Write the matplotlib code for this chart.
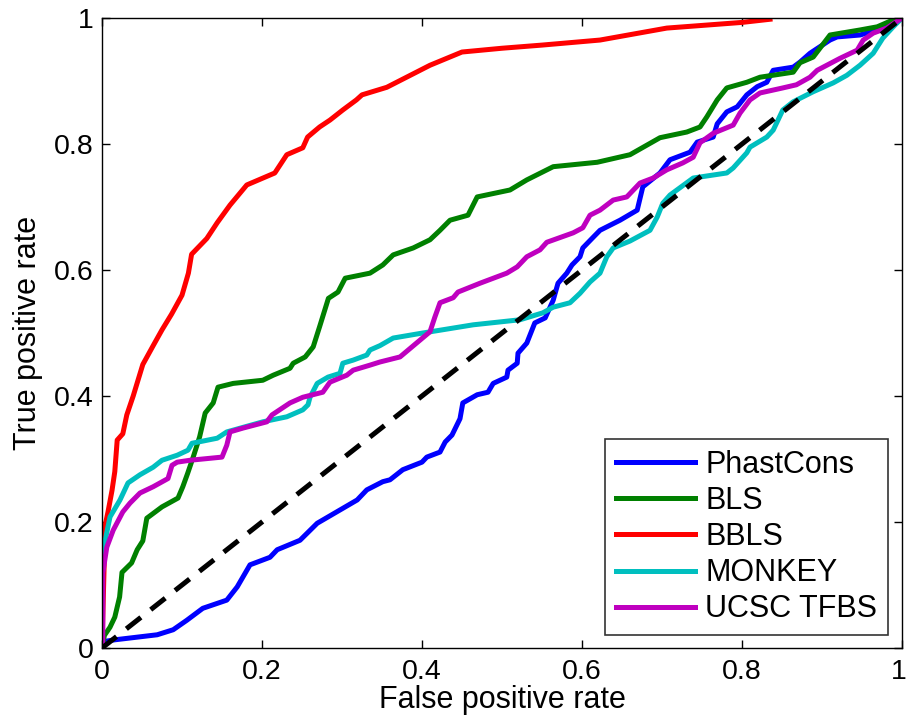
import matplotlib
matplotlib.use("Agg")
import matplotlib.pyplot as plt

plt.rcParams['font.family'] = ['Liberation Sans', 'DejaVu Sans']

labels = ["PhastCons", "BLS", "BBLS", "MONKEY", "UCSC TFBS"]
colors = ["#0000ff", "#008000", "#ff0000", "#00bfbf", "#bf00bf"]

phast_x = [0, 0.001, 0.016, 0.069, 0.089, 0.106, 0.126, 0.156, 0.169, 0.185, 0.21, 0.219, 0.2475, 0.269, 0.319, 0.331,
           0.351, 0.36, 0.376, 0.4, 0.406, 0.4225, 0.429, 0.4375, 0.4475, 0.451, 0.469, 0.4825, 0.489, 0.506, 0.5075,
           0.519, 0.52, 0.531, 0.541, 0.554, 0.564, 0.57, 0.581, 0.5875, 0.5975, 0.601, 0.614, 0.6225, 0.6475, 0.669,
           0.676, 0.6975, 0.71, 0.735, 0.744, 0.764, 0.769, 0.781, 0.794, 0.806, 0.819, 0.831, 0.839, 0.864, 0.8725,
           0.885, 0.91, 0.919, 0.9475, 0.969, 0.985, 1.0]
phast_y = [0, 0.01, 0.013, 0.021, 0.029, 0.044, 0.063, 0.076, 0.097, 0.132, 0.144, 0.156, 0.171, 0.198, 0.235, 0.251,
           0.264, 0.267, 0.283, 0.295, 0.303, 0.311, 0.327, 0.338, 0.364, 0.389, 0.402, 0.406, 0.42, 0.43, 0.441,
           0.452, 0.468, 0.484, 0.516, 0.524, 0.552, 0.579, 0.595, 0.608, 0.621, 0.635, 0.652, 0.663, 0.679, 0.695,
           0.732, 0.754, 0.775, 0.787, 0.803, 0.811, 0.832, 0.851, 0.859, 0.878, 0.891, 0.898, 0.917, 0.922, 0.93,
           0.944, 0.965, 0.97, 0.973, 0.981, 0.992, 1.0]

bls_x = [0, 0.003, 0.01, 0.016, 0.022, 0.025, 0.037, 0.044, 0.051, 0.056, 0.075, 0.095, 0.101, 0.107, 0.114, 0.122,
         0.129, 0.139, 0.145, 0.164, 0.201, 0.214, 0.235, 0.239, 0.254, 0.264, 0.272, 0.283, 0.295, 0.304, 0.335,
         0.351, 0.364, 0.389, 0.41, 0.4225, 0.435, 0.4575, 0.469, 0.51, 0.531, 0.564, 0.619, 0.66, 0.6975, 0.731,
         0.7475, 0.756, 0.769, 0.781, 0.806, 0.8225, 0.864, 0.8725, 0.889, 0.91, 0.9475, 0.969, 0.989, 1.0]
bls_y = [0, 0.02, 0.033, 0.049, 0.081, 0.12, 0.135, 0.156, 0.17, 0.206, 0.224, 0.238, 0.256, 0.277, 0.303, 0.335,
         0.373, 0.389, 0.414, 0.42, 0.425, 0.433, 0.444, 0.452, 0.462, 0.478, 0.51, 0.555, 0.565, 0.587, 0.595,
         0.608, 0.624, 0.635, 0.648, 0.663, 0.679, 0.687, 0.716, 0.727, 0.743, 0.764, 0.771, 0.783, 0.81, 0.819,
         0.827, 0.843, 0.87, 0.889, 0.898, 0.906, 0.914, 0.929, 0.938, 0.973, 0.981, 0.986, 0.997, 1.0]

bbls_x = [0, 0.004, 0.0075, 0.0125, 0.016, 0.019, 0.026, 0.031, 0.039, 0.051, 0.064, 0.075, 0.087, 0.1, 0.108,
          0.112, 0.131, 0.144, 0.16, 0.181, 0.216, 0.231, 0.251, 0.257, 0.272, 0.285, 0.301, 0.318, 0.325, 0.356,
          0.41, 0.45, 0.5, 0.55, 0.6225, 0.706, 0.8, 0.835]
bbls_y = [0, 0.195, 0.216, 0.25, 0.28, 0.33, 0.34, 0.37, 0.40, 0.45, 0.48, 0.505, 0.53, 0.56, 0.595,
          0.625, 0.65, 0.675, 0.703, 0.735, 0.754, 0.783, 0.794, 0.811, 0.827, 0.838, 0.854, 0.87, 0.878, 0.89,
          0.925, 0.946, 0.952, 0.957, 0.965, 0.984, 0.993, 0.998]

monkey_x = [0, 0, 0.004, 0.01, 0.0225, 0.0325, 0.0475, 0.064, 0.075, 0.094, 0.1075, 0.1125, 0.144, 0.156, 0.201,
            0.231, 0.251, 0.2575, 0.26, 0.269, 0.2825, 0.2975, 0.301, 0.314, 0.331, 0.335, 0.3475, 0.364, 0.401,
            0.464, 0.5225, 0.551, 0.564, 0.585, 0.5975, 0.61, 0.6225, 0.631, 0.639, 0.66, 0.685, 0.694, 0.701, 0.71,
            0.739, 0.781, 0.789, 0.806, 0.81, 0.831, 0.839, 0.851, 0.864, 0.889, 0.914, 0.931, 0.9475, 0.964, 0.976,
            0.989, 1.0]
monkey_y = [0, 0.14, 0.171, 0.208, 0.235, 0.262, 0.275, 0.287, 0.298, 0.306, 0.314, 0.325, 0.333, 0.343, 0.359,
            0.367, 0.378, 0.386, 0.398, 0.42, 0.43, 0.436, 0.452, 0.457, 0.465, 0.473, 0.48, 0.492, 0.5,
            0.513, 0.521, 0.532, 0.541, 0.548, 0.563, 0.581, 0.595, 0.621, 0.635, 0.646, 0.663, 0.684, 0.706, 0.719,
            0.746, 0.754, 0.762, 0.786, 0.795, 0.811, 0.822, 0.854, 0.867, 0.883, 0.897, 0.909, 0.925, 0.944, 0.968,
            0.986, 1.0]

ucsc_x = [0, 0.001, 0.001, 0.006, 0.014, 0.026, 0.035, 0.0475, 0.064, 0.0825, 0.0875, 0.094, 0.11, 0.15, 0.156,
          0.16, 0.176, 0.206, 0.2125, 0.235, 0.251, 0.276, 0.285, 0.306, 0.314, 0.335, 0.3475, 0.3725, 0.41, 0.416,
          0.4225, 0.439, 0.445, 0.4725, 0.506, 0.519, 0.531, 0.5475, 0.556, 0.589, 0.601, 0.61, 0.6225, 0.639,
          0.656, 0.6725, 0.689, 0.706, 0.726, 0.739, 0.7475, 0.764, 0.789, 0.7975, 0.81, 0.8225, 0.851, 0.868,
          0.885, 0.894, 0.9225, 0.944, 0.9515, 0.964, 0.981, 1.0]
ucsc_y = [0, 0.013, 0.119, 0.16, 0.187, 0.216, 0.23, 0.246, 0.256, 0.269, 0.29, 0.295, 0.298, 0.303, 0.322,
          0.343, 0.349, 0.359, 0.37, 0.389, 0.398, 0.406, 0.422, 0.433, 0.441, 0.449, 0.454, 0.462, 0.502, 0.525,
          0.548, 0.556, 0.565, 0.579, 0.595, 0.605, 0.621, 0.632, 0.644, 0.659, 0.667, 0.687, 0.695, 0.711,
          0.716, 0.738, 0.746, 0.759, 0.77, 0.779, 0.802, 0.817, 0.83, 0.849, 0.87, 0.881, 0.889, 0.894,
          0.906, 0.917, 0.936, 0.949, 0.965, 0.976, 0.984, 1.0]

diag_x = [0, 1]
diag_y = [0, 1]

xticks = [0, 0.2, 0.4, 0.6, 0.8, 1]
xticklabels = ["0", "0.2", "0.4", "0.6", "0.8", "1"]
yticks = [0, 0.2, 0.4, 0.6, 0.8, 1]
yticklabels = ["0", "0.2", "0.4", "0.6", "0.8", "1"]

fig = plt.figure(figsize=(9.08, 7.26), dpi=100)
ax = fig.add_axes([102/908, 1-648/726, 800/908, 630/726])

series = [(phast_x, phast_y), (bls_x, bls_y), (bbls_x, bbls_y), (monkey_x, monkey_y), (ucsc_x, ucsc_y)]
for (sx, sy), c, lab in zip(series, colors, labels):
    ax.plot(sx, sy, color=c, lw=3.6, label=lab, solid_joinstyle='round')
ax.plot(diag_x, diag_y, color='black', lw=3.6, linestyle=(0, (3.7, 2.5)))

ax.set_xlim(0, 1)
ax.set_ylim(0, 1)
ax.set_xticks(xticks)
ax.set_xticklabels(xticklabels)
ax.set_yticks(yticks)
ax.set_yticklabels(yticklabels)
ax.tick_params(direction='in', length=6, width=1, top=True, right=True, labelsize=20.5)
ax.tick_params(axis='x', pad=8)
ax.tick_params(axis='y', pad=6)
for s in ax.spines.values():
    s.set_linewidth(1.0)
ax.set_xlabel("False positive rate", fontsize=22, labelpad=0)
ax.set_ylabel("True positive rate", fontsize=22, labelpad=8)

# keep the right-most x tick label "1" inside the canvas
lastlab = ax.get_xticklabels()[-1]
lastlab.set_horizontalalignment('right')
lastlab.set_x(1.0)
import matplotlib.transforms as mtransforms
lastlab.set_transform(lastlab.get_transform() + mtransforms.ScaledTranslation(5/100, 0, fig.dpi_scale_trans))

leg = ax.legend(loc='lower right', bbox_to_anchor=(0.9825, 0.0206), borderaxespad=0,
                fontsize=22, frameon=True, fancybox=False, edgecolor='black',
                handlelength=2.6, handletextpad=0.33, labelspacing=0.2, borderpad=0.35)
leg.get_frame().set_linewidth(1.2)

fig.savefig("out.png", dpi=100)
